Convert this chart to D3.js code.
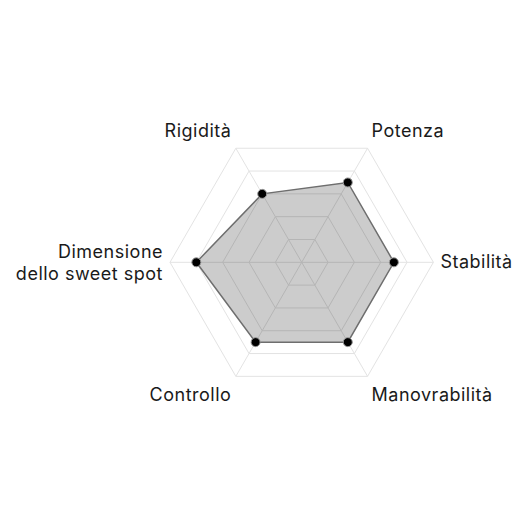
<!DOCTYPE html>
<html>
<head>
<meta charset="utf-8">
<script src="https://cdn.jsdelivr.net/npm/d3@7"></script>
<style>
  html, body { margin: 0; padding: 0; background: #fff; }
  text { font-family: Inter, "Noto Sans", sans-serif; font-size: 18px; letter-spacing: 0.5px; fill: #1a1a1a; }
</style>
</head>
<body>
<svg id="chart"></svg>
<script>
const axes = ['Stabilità', 'Potenza', 'Rigidità', 'Dimensione\ndello sweet spot', 'Controllo', 'Manovrabilità'];
const values = [7, 7, 6, 8, 7, 7];
const ticks = [2, 4, 6, 8, 10];

const width = 526;
const height = 526;
const cx = 301.7;
const cy = 262.3;
const radius = 131.7;

const svg = d3.select('#chart')
  .attr('width', width)
  .attr('height', height);
const g = svg.append('g').attr('transform', `translate(${cx},${cy})`);

const r = d3.scaleLinear().domain([0, 10]).range([0, radius]);
// axes go counter-clockwise starting at the right
const angle = d3.scalePoint().domain(d3.range(axes.length)).range([0, -2 * Math.PI * (axes.length - 1) / axes.length]);

const pt = (i, v) => [Math.cos(angle(i)) * r(v), Math.sin(angle(i)) * r(v)];

// grid rings
g.selectAll('.ring')
  .data(ticks)
  .join('polygon')
  .attr('class', 'ring')
  .attr('points', t => axes.map((a, i) => pt(i, t).join(',')).join(' '))
  .attr('fill', 'none')
  .attr('stroke', '#e3e3e3')
  .attr('stroke-width', 1);

// spokes
g.selectAll('.spoke')
  .data(axes)
  .join('line')
  .attr('class', 'spoke')
  .attr('x1', 0).attr('y1', 0)
  .attr('x2', (a, i) => pt(i, 10)[0])
  .attr('y2', (a, i) => pt(i, 10)[1])
  .attr('stroke', '#e3e3e3')
  .attr('stroke-width', 1);

// data area
const line = d3.line().curve(d3.curveLinearClosed);
g.append('path')
  .datum(values.map((v, i) => pt(i, v)))
  .attr('d', line)
  .attr('fill', 'rgba(0,0,0,0.2)')
  .attr('stroke', '#6e6e6e')
  .attr('stroke-width', 1.5);

g.selectAll('.dot')
  .data(values)
  .join('circle')
  .attr('class', 'dot')
  .attr('cx', (v, i) => pt(i, v)[0])
  .attr('cy', (v, i) => pt(i, v)[1])
  .attr('r', 4.5)
  .attr('fill', '#000')
  .attr('stroke', '#999')
  .attr('stroke-width', 1);

// labels
g.selectAll('.label')
  .data(axes)
  .join('text')
  .attr('class', 'label')
  .each(function (a, i) {
    const [vx, vy] = pt(i, 10);
    const c = Math.cos(angle(i));
    const s = Math.sin(angle(i));
    const lines = a.split('\n');
    const el = d3.select(this);
    const anchor = c > 0 ? 'start' : 'end';
    let x, y;
    if (Math.abs(s) < 0.01) {
      x = vx + (c > 0 ? 7 : -7);
      y = lines.length > 1 ? -4.3 : 5.4;
    } else {
      x = vx + (c > 0 ? 4 : -4.5);
      y = s < 0 ? vy - 11 : vy + 25;
    }
    el.attr('text-anchor', anchor);
    lines.forEach((l, k) => {
      el.append('tspan').attr('x', x).attr('y', y + k * 21.7).text(l);
    });
  });
</script>
</body>
</html>
